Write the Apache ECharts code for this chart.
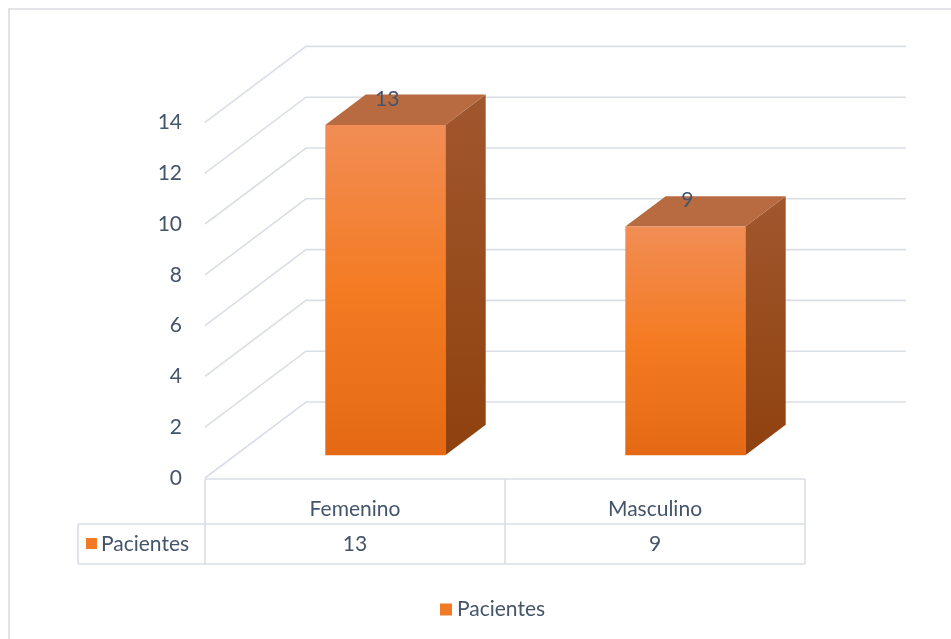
<!DOCTYPE html>
<html>
<head>
<meta charset="utf-8">
<script src="https://cdn.jsdelivr.net/npm/echarts@6/dist/echarts.min.js"></script>
<style>html,body{margin:0;padding:0;background:#fff;}#c{width:951px;height:639px;}</style>
</head>
<body>
<div id="c"></div>
<script>
var categories = ['Femenino', 'Masculino'];
var seriesName = 'Pacientes';
var values = [13, 9];
var yTicks = [0, 2, 4, 6, 8, 10, 12, 14];

var FONT = 'Lato';
var FS = 21;
var TXT = '#44546A';
var GRID_LINE = '#dadee5';
var DEPTH = [101, -76];      // wall depth vector (px)
var BAR_FRONT = 0.30, BAR_BACK = 0.70, BAR_W = 0.40;

var chart = echarts.init(document.getElementById('c'));

function wallItem(params, api) {
  var cs = params.coordSys;
  var v = api.value(0);
  var y = api.coord([0, v])[1];
  var x0 = cs.x, x1 = cs.x + cs.width;
  var st = {stroke: GRID_LINE, lineWidth: 1.6, fill: null};
  return {
    type: 'group',
    children: [
      {type: 'polyline', shape: {points: [[x0, y], [x0 + DEPTH[0], y + DEPTH[1]], [x1 + DEPTH[0], y + DEPTH[1]]]}, style: st}
    ]
  };
}

function barItem(params, api) {
  var cat = api.value(0), val = api.value(1);
  var band = api.size([1, 0])[0];
  var bw = band * BAR_W;
  var base = api.coord([cat, 0]);
  var top = api.coord([cat, val]);
  var fx = DEPTH[0] * BAR_FRONT, fy = DEPTH[1] * BAR_FRONT;
  var dx = DEPTH[0] * (BAR_BACK - BAR_FRONT), dy = DEPTH[1] * (BAR_BACK - BAR_FRONT);
  var l = base[0] - bw / 2 + fx, r = base[0] + bw / 2 + fx;
  var b = base[1] + fy, t = top[1] + fy;
  var frontGrad = new echarts.graphic.LinearGradient(0, 0, 0, 1, [
    {offset: 0, color: '#f18d55'}, {offset: 0.5, color: '#f47b22'}, {offset: 1, color: '#e56914'}]);
  var sideGrad = new echarts.graphic.LinearGradient(0, 0, 0, 1, [
    {offset: 0, color: '#a1572e'}, {offset: 1, color: '#8f420e'}]);
  return {
    type: 'group',
    children: [
      {type: 'polygon', shape: {points: [[r, t], [r + dx, t + dy], [r + dx, b + dy], [r, b]]}, style: {fill: sideGrad}},
      {type: 'polygon', shape: {points: [[l, t], [l + dx, t + dy], [r + dx, t + dy], [r, t]]}, style: {fill: '#b86b41'}},
      {type: 'rect', shape: {x: l, y: t, width: r - l, height: b - t}, style: {fill: frontGrad}},
      {type: 'text', style: {text: String(val), x: (l + r) / 2 + 2, y: t - 26, align: 'center', verticalAlign: 'middle',
        font: FS + 'px ' + FONT, fill: TXT}}
    ]
  };
}

function tableItem(params, api) {
  var cs = params.coordSys;
  var i = api.value(0);
  var band = api.size([1, 0])[0];
  var x0 = cs.x + i * band, x1 = x0 + band;
  var yTop = cs.y + cs.height + 1, yMid = yTop + 45, yBot = yMid + 40;
  var st = {stroke: GRID_LINE, lineWidth: 1.6, fill: null};
  var ch = [
    {type: 'line', shape: {x1: x0, y1: yTop, x2: x1, y2: yTop}, style: st},
    {type: 'line', shape: {x1: x0, y1: yMid, x2: x1, y2: yMid}, style: st},
    {type: 'line', shape: {x1: x0, y1: yBot, x2: x1, y2: yBot}, style: st},
    {type: 'line', shape: {x1: x1, y1: yTop, x2: x1, y2: yBot}, style: st},
    {type: 'text', style: {text: categories[i], x: (x0 + x1) / 2, y: (yTop + yMid) / 2 + 8, align: 'center', verticalAlign: 'middle', font: FS + 'px ' + FONT, fill: TXT}},
    {type: 'text', style: {text: String(values[i]), x: (x0 + x1) / 2, y: (yMid + yBot) / 2, align: 'center', verticalAlign: 'middle', font: FS + 'px ' + FONT, fill: TXT}}
  ];
  if (i === 0) {
    var hx = 78;
    ch.push({type: 'line', shape: {x1: x0, y1: yTop, x2: x0, y2: yBot}, style: st});
    ch.push({type: 'line', shape: {x1: hx, y1: yMid, x2: x0, y2: yMid}, style: st});
    ch.push({type: 'line', shape: {x1: hx, y1: yBot, x2: x0, y2: yBot}, style: st});
    ch.push({type: 'line', shape: {x1: hx, y1: yMid, x2: hx, y2: yBot}, style: st});
    ch.push({type: 'rect', shape: {x: 86, y: (yMid + yBot) / 2 - 6, width: 11, height: 11}, style: {fill: '#f07a26'}});
    ch.push({type: 'text', style: {text: seriesName, x: 101, y: (yMid + yBot) / 2, align: 'left', verticalAlign: 'middle', font: FS + 'px ' + FONT, fill: TXT}});
  }
  return {type: 'group', children: ch};
}

chart.setOption({
  animation: false,
  backgroundColor: '#fff',
  graphic: [{type: 'rect', shape: {x: 9, y: 9, width: 1000, height: 700}, style: {fill: null, stroke: '#d9dce2', lineWidth: 1.6}, z: -10}],
  grid: {left: 205, right: 146, top: 122.4, bottom: 161},
  legend: {
    data: [seriesName], left: 435, top: 594, icon: 'rect', itemWidth: 12, itemHeight: 12, itemGap: 6,
    textStyle: {fontFamily: FONT, fontSize: FS, color: TXT}
  },
  xAxis: {type: 'category', data: categories, show: false},
  yAxis: {
    type: 'value', min: 0, max: 14, interval: 2,
    axisLine: {show: false}, axisTick: {show: false}, splitLine: {show: false},
    axisLabel: {margin: 23, fontFamily: FONT, fontSize: FS, color: TXT}
  },
  series: [
    {type: 'custom', name: 'walls', renderItem: wallItem, data: yTicks.map(function (v) { return [v]; }), silent: true, z: 1},
    {type: 'custom', name: 'table', renderItem: tableItem, data: categories.map(function (c, i) { return [i]; }), silent: true, z: 1},
    {type: 'custom', name: seriesName, renderItem: barItem, itemStyle: {color: '#f07a26'},
      data: values.map(function (v, i) { return [i, v]; }), z: 3}
  ]
});
</script>
</body>
</html>
